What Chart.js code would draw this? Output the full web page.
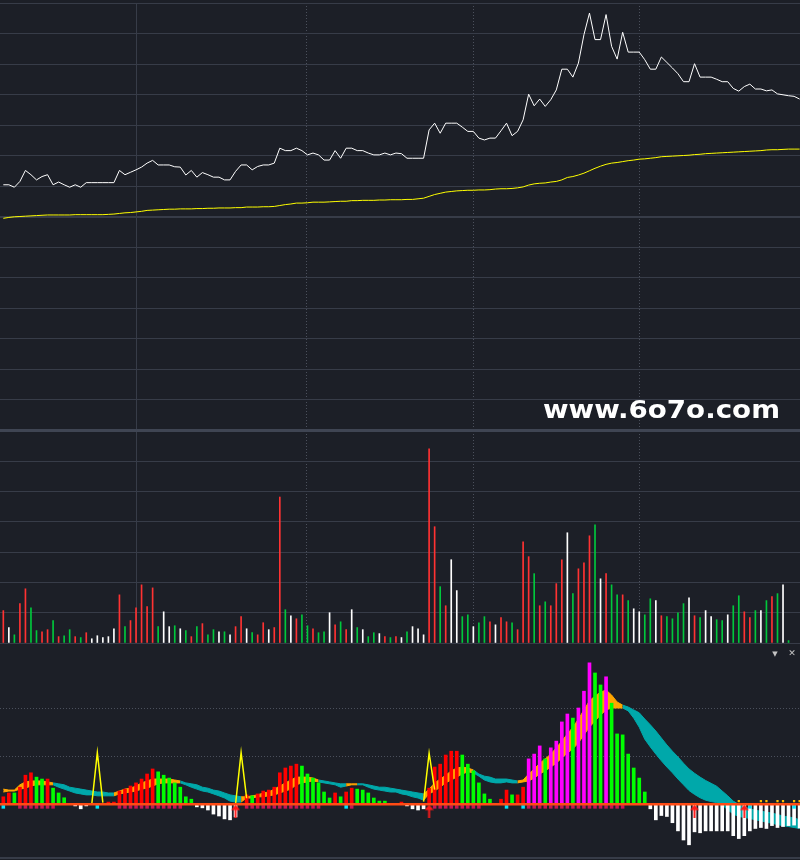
<!DOCTYPE html>
<html>
<head>
<meta charset="utf-8">
<script src="https://cdn.jsdelivr.net/npm/chart.js@4.4.1/dist/chart.umd.min.js"></script>
<style>
  html, body { margin: 0; padding: 0; background: #1c1f27; }
  #wrap { position: relative; width: 800px; height: 860px; overflow: hidden; background: #1c1f27; }
  canvas { position: absolute; left: 0; }
  #price { top: 0; }
  #vol { top: 428px; }
  #macd { top: 645px; }
</style>
</head>
<body>
<div id="wrap">
  <canvas id="price" width="800" height="433"></canvas>
  <canvas id="vol" width="800" height="218"></canvas>
  <canvas id="macd" width="800" height="215"></canvas>
</div>
<script>
// ---- data (one entry per trading day) ----
const price = [
  8.04, 8.04, 7.96, 8.15, 8.51, 8.37, 8.20, 8.31, 8.37, 8.04,
  8.13, 8.04, 7.96, 8.04, 7.96, 8.11, 8.11, 8.11, 8.11, 8.11,
  8.11, 8.51, 8.37, 8.45, 8.53, 8.62, 8.75, 8.84, 8.69, 8.69,
  8.69, 8.63, 8.62, 8.36, 8.51, 8.29, 8.44, 8.37, 8.29, 8.29,
  8.20, 8.20, 8.48, 8.69, 8.69, 8.53, 8.64, 8.69, 8.69, 8.75,
  9.24, 9.16, 9.16, 9.24, 9.16, 9.02, 9.08, 9.02, 8.85, 8.85,
  9.16, 8.91, 9.24, 9.24, 9.16, 9.16, 9.08, 9.02, 9.02, 9.08,
  9.02, 9.08, 9.06, 8.91, 8.91, 8.91, 8.91, 9.84, 10.06, 9.73,
  10.06, 10.06, 10.06, 9.93, 9.79, 9.79, 9.57, 9.51, 9.57, 9.57,
  9.81, 10.06, 9.65, 9.79, 10.17, 11.01, 10.63, 10.85, 10.61, 10.83,
  11.15, 11.83, 11.83, 11.57, 12.03, 12.96, 13.67, 12.80, 12.80, 13.62,
  12.58, 12.16, 13.04, 12.39, 12.39, 12.39, 12.14, 11.83, 11.83, 12.23,
  12.05, 11.87, 11.68, 11.42, 11.42, 12.01, 11.57, 11.57, 11.57, 11.50,
  11.42, 11.42, 11.20, 11.11, 11.26, 11.34, 11.18, 11.18, 11.12, 11.15,
  11.02, 10.99, 10.96, 10.94, 10.85
];
const avgLine = [
  6.94, 6.97, 6.99, 7.00, 7.01, 7.02, 7.03, 7.04, 7.05, 7.05,
  7.05, 7.05, 7.05, 7.06, 7.06, 7.06, 7.06, 7.06, 7.06, 7.07,
  7.08, 7.10, 7.12, 7.13, 7.15, 7.17, 7.20, 7.21, 7.22, 7.23,
  7.24, 7.24, 7.25, 7.25, 7.25, 7.26, 7.26, 7.27, 7.27, 7.28,
  7.28, 7.28, 7.29, 7.29, 7.31, 7.31, 7.31, 7.32, 7.32, 7.33,
  7.36, 7.39, 7.41, 7.44, 7.44, 7.45, 7.47, 7.47, 7.47, 7.48,
  7.49, 7.50, 7.50, 7.52, 7.52, 7.53, 7.53, 7.53, 7.54, 7.54,
  7.55, 7.55, 7.55, 7.56, 7.56, 7.58, 7.60, 7.66, 7.72, 7.76,
  7.80, 7.82, 7.84, 7.85, 7.86, 7.86, 7.87, 7.87, 7.88, 7.90,
  7.91, 7.91, 7.92, 7.94, 7.97, 8.03, 8.07, 8.09, 8.10, 8.13,
  8.15, 8.20, 8.28, 8.31, 8.36, 8.42, 8.50, 8.58, 8.65, 8.71,
  8.75, 8.77, 8.80, 8.83, 8.85, 8.88, 8.89, 8.91, 8.93, 8.96,
  8.97, 8.98, 8.99, 9.00, 9.01, 9.03, 9.04, 9.06, 9.07, 9.08,
  9.09, 9.10, 9.11, 9.12, 9.13, 9.14, 9.15, 9.16, 9.18, 9.19,
  9.19, 9.20, 9.21, 9.21, 9.21
];
const volume = [
  1.07, 0.51, 0.27, 1.30, 1.79, 1.16, 0.41, 0.37, 0.44, 0.74,
  0.21, 0.24, 0.44, 0.21, 0.18, 0.34, 0.14, 0.24, 0.18, 0.21,
  0.47, 1.59, 0.54, 0.74, 1.16, 1.92, 1.20, 1.82, 0.54, 1.03,
  0.54, 0.57, 0.47, 0.41, 0.21, 0.54, 0.64, 0.27, 0.44, 0.37,
  0.37, 0.27, 0.54, 0.87, 0.47, 0.34, 0.27, 0.67, 0.44, 0.51,
  4.82, 1.10, 0.90, 0.80, 0.93, 0.57, 0.47, 0.34, 0.37, 1.00,
  0.60, 0.70, 0.44, 1.10, 0.51, 0.44, 0.21, 0.34, 0.31, 0.21,
  0.18, 0.21, 0.18, 0.37, 0.54, 0.47, 0.27, 6.41, 3.84, 1.86,
  1.23, 2.75, 1.73, 0.87, 0.93, 0.54, 0.67, 0.87, 0.70, 0.60,
  0.84, 0.70, 0.67, 0.44, 3.34, 2.85, 2.29, 1.23, 1.36, 1.23,
  1.96, 2.75, 3.64, 1.63, 2.45, 2.65, 3.54, 3.90, 2.12, 2.29,
  1.92, 1.59, 1.59, 1.40, 1.13, 1.03, 0.93, 1.46, 1.40, 0.90,
  0.87, 0.80, 1.00, 1.30, 1.49, 0.90, 0.84, 1.07, 0.87, 0.77,
  0.74, 0.93, 1.23, 1.56, 1.03, 0.84, 1.07, 1.07, 1.40, 1.53,
  1.63, 1.92, 0.08
];
// 1 = up day, -1 = down day, 0 = flat
const volDir = [
  1, 0, -1, 1, 1, -1, -1, 1, 1, -1,
  1, -1, -1, 1, -1, 1, 0, 0, 0, 0,
  0, 1, -1, 1, 1, 1, 1, 1, -1, 0,
  0, -1, 0, -1, 1, -1, 1, -1, -1, 0,
  -1, 0, 1, 1, 0, -1, 1, 1, 0, 1,
  1, -1, 0, 1, -1, -1, 1, -1, -1, 0,
  1, -1, 1, 0, -1, 0, -1, -1, 0, 1,
  -1, 1, 0, -1, 0, 0, 0, 1, 1, -1,
  1, 0, 0, -1, -1, 0, -1, -1, 1, 0,
  1, 1, -1, 1, 1, 1, -1, 1, -1, 1,
  1, 1, 0, -1, 1, 1, 1, -1, 0, 1,
  -1, -1, 1, -1, 0, 0, -1, -1, 0, 1,
  -1, -1, -1, -1, 0, 1, -1, 0, 0, -1,
  -1, 0, -1, -1, 1, 1, -1, 0, -1, 1,
  -1, 0, -1
];
const hist = [
  0.15, 0.23, 0.23, 0.35, 0.60, 0.65, 0.56, 0.52, 0.52, 0.33,
  0.23, 0.13, 0, -0.04, -0.10, -0.04, 0, 0, 0, 0.04,
  0.04, 0.27, 0.31, 0.375, 0.44, 0.52, 0.625, 0.73, 0.67, 0.60,
  0.54, 0.44, 0.35, 0.15, 0.10, -0.06, -0.08, -0.125, -0.21, -0.25,
  -0.31, -0.33, -0.27, 0, 0.19, 0.17, 0.21, 0.27, 0.29, 0.35,
  0.65, 0.75, 0.79, 0.83, 0.79, 0.625, 0.54, 0.44, 0.25, 0.125,
  0.23, 0.15, 0.25, 0.33, 0.31, 0.29, 0.23, 0.125, 0.06, 0.06,
  0, 0, 0.04, -0.04, -0.10, -0.125, -0.10, 0.33, 0.77, 0.83,
  1.02, 1.10, 1.10, 1.02, 0.83, 0.69, 0.44, 0.21, 0.10, 0,
  0.10, 0.29, 0.19, 0.19, 0.35, 0.94, 1.04, 1.21, 0.94, 1.17,
  1.31, 1.71, 1.875, 1.79, 2.0, 2.35, 2.94, 2.73, 2.48, 2.65,
  2.10, 1.46, 1.44, 1.04, 0.75, 0.54, 0.25, -0.10, -0.33, -0.24,
  -0.26, -0.39, -0.56, -0.75, -0.85, -0.58, -0.60, -0.56, -0.56, -0.56,
  -0.56, -0.56, -0.66, -0.72, -0.66, -0.56, -0.51, -0.49, -0.51, -0.45,
  -0.49, -0.47, -0.45, -0.44, -0.50
];
// R = rising, G = falling, M = strong, W = below zero
const histKind = [
  'R','R','G','R','R','R','G','G','R','G',
  'G','G','W','W','W','W','W','W','W','R',
  'R','R','R','R','R','R','R','R','G','G',
  'G','G','G','G','G','W','W','W','W','W',
  'W','W','W','W','R','G','R','R','R','R',
  'R','R','R','R','G','G','G','G','G','G',
  'R','G','R','R','G','G','G','G','G','G',
  'W','W','R','W','W','W','W','R','R','R',
  'R','R','R','G','G','G','G','G','G','W',
  'R','R','G','R','R','M','M','M','G','M',
  'M','M','M','G','M','M','M','G','G','M',
  'G','G','G','G','G','G','G','W','W','W',
  'W','W','W','W','W','W','W','W','W','W',
  'W','W','W','W','W','W','W','W','W','W',
  'W','W','W','W','W'
];
const bandHi = [
  0.31, 0.29, 0.29, 0.40, 0.46, 0.48, 0.48, 0.48, 0.46, 0.44,
  0.42, 0.40, 0.35, 0.33, 0.31, 0.29, 0.27, 0.25, 0.25, 0.23,
  0.23, 0.27, 0.31, 0.33, 0.375, 0.44, 0.48, 0.52, 0.52, 0.52,
  0.52, 0.50, 0.48, 0.44, 0.42, 0.40, 0.35, 0.33, 0.29, 0.27,
  0.23, 0.19, 0.17, 0.15, 0.15, 0.17, 0.19, 0.23, 0.25, 0.31,
  0.375, 0.44, 0.50, 0.56, 0.56, 0.56, 0.54, 0.50, 0.48, 0.46,
  0.44, 0.42, 0.42, 0.42, 0.42, 0.42, 0.40, 0.375, 0.35, 0.35,
  0.33, 0.31, 0.29, 0.27, 0.25, 0.23, 0.21, 0.31, 0.44, 0.52,
  0.60, 0.69, 0.75, 0.77, 0.75, 0.71, 0.625, 0.58, 0.56, 0.52,
  0.52, 0.52, 0.50, 0.48, 0.50, 0.625, 0.73, 0.85, 0.94, 1.04,
  1.17, 1.31, 1.46, 1.60, 1.77, 1.96, 2.15, 2.25, 2.33, 2.375,
  2.27, 2.125, 2.06, 2.02, 1.96, 1.90, 1.77, 1.65, 1.52, 1.375,
  1.23, 1.10, 0.98, 0.85, 0.73, 0.64, 0.56, 0.49, 0.43, 0.37,
  0.27, 0.17, 0.06, -0.01, -0.06, -0.10, -0.13, -0.15, -0.17, -0.19,
  -0.22, -0.25, -0.27, -0.29, -0.33
];
const bandLo = [
  0.25, 0.27, 0.27, 0.31, 0.33, 0.375, 0.40, 0.40, 0.40, 0.40,
  0.35, 0.31, 0.27, 0.23, 0.21, 0.19, 0.19, 0.17, 0.17, 0.17,
  0.17, 0.21, 0.23, 0.25, 0.27, 0.31, 0.33, 0.375, 0.42, 0.44,
  0.44, 0.44, 0.44, 0.40, 0.35, 0.31, 0.27, 0.25, 0.21, 0.17,
  0.125, 0.06, 0.04, 0.04, 0.125, 0.125, 0.15, 0.15, 0.17, 0.19,
  0.23, 0.27, 0.31, 0.40, 0.44, 0.46, 0.48, 0.46, 0.44, 0.42,
  0.40, 0.35, 0.375, 0.40, 0.40, 0.40, 0.35, 0.31, 0.29, 0.27,
  0.25, 0.25, 0.21, 0.19, 0.15, 0.125, 0.08, 0.21, 0.27, 0.35,
  0.44, 0.50, 0.56, 0.625, 0.67, 0.65, 0.58, 0.50, 0.46, 0.44,
  0.44, 0.46, 0.44, 0.44, 0.46, 0.48, 0.54, 0.625, 0.69, 0.77,
  0.85, 0.96, 1.06, 1.15, 1.27, 1.44, 1.60, 1.73, 1.85, 1.96,
  2.0, 2.0, 2.0, 1.94, 1.79, 1.60, 1.35, 1.19, 1.04, 0.90,
  0.77, 0.65, 0.52, 0.40, 0.28, 0.20, 0.13, 0.08, 0.05, 0.03,
  -0.02, -0.12, -0.21, -0.26, -0.28, -0.30, -0.33, -0.35, -0.38, -0.40,
  -0.43, -0.45, -0.47, -0.49, -0.51
];
// 1 = ribbon rising (orange), 0 = falling (teal)
const bandUp = [
  0, 1, 1, 1, 1, 1, 1, 1, 1, 1,
  0, 0, 0, 0, 0, 0, 0, 0, 0, 0,
  0, 1, 1, 1, 1, 1, 1, 1, 1, 1,
  1, 1, 1, 0, 0, 0, 0, 0, 0, 0,
  0, 0, 0, 0, 1, 1, 1, 1, 1, 1,
  1, 1, 1, 1, 1, 1, 1, 1, 0, 0,
  0, 0, 0, 1, 1, 0, 0, 0, 0, 0,
  0, 0, 0, 0, 0, 0, 0, 1, 1, 1,
  1, 1, 1, 1, 1, 1, 0, 0, 0, 0,
  0, 0, 0, 0, 1, 1, 1, 1, 1, 1,
  1, 1, 1, 1, 1, 1, 1, 1, 1, 1,
  1, 1, 1, 0, 0, 0, 0, 0, 0, 0,
  0, 0, 0, 0, 0, 0, 0, 0, 0, 0,
  0, 0, 0, 0, 0, 0, 0, 0, 0, 0,
  0, 0, 0, 0, 0
];
// 1 = hold signal, 2 = watch signal, 0 = none
const signal = [
  2, 0, 0, 1, 1, 1, 1, 1, 1, 1,
  0, 0, 0, 0, 0, 0, 0, 2, 0, 0,
  0, 1, 1, 1, 1, 1, 1, 1, 1, 1,
  1, 1, 1, 0, 0, 0, 0, 0, 0, 0,
  0, 0, 0, 0, 1, 1, 1, 1, 1, 1,
  1, 1, 1, 1, 1, 1, 1, 1, 0, 0,
  0, 0, 2, 1, 0, 0, 0, 0, 0, 0,
  0, 0, 0, 0, 0, 0, 0, 0, 1, 1,
  1, 1, 1, 1, 1, 1, 1, 0, 0, 0,
  0, 2, 0, 0, 2, 1, 1, 1, 1, 1,
  1, 1, 1, 1, 1, 1, 1, 1, 1, 1,
  1, 1, 1, 0, 0, 0, 0, 0, 0, 0,
  0, 0, 0, 0, 0, 0, 0, 0, 0, 0,
  0, 0, 0, 0, 0, 2, 0, 0, 0, 0,
  0, 0, 0, 2, 0
];
const spikeX = [16, 17, 18, 42, 43, 44, 76, 77, 78];
const spikeY = [0, 1.07, 0.03, 0, 1.07, 0.12, 0.05, 1.06, 0.30];
const buyArrowAt = [42, 77, 125, 134];
const tickMarkAt = [133, 137, 138, 140, 141, 143, 144];
const monthLines = [24.1, 54.9, 85, 115];
const macdGrid = [1, 2];
const siteText = 'www.6o7o.com';

// ---- look ----
const GRID = '#373c48';
const EDGE = '#3f4553';
const DOTS = '#4b505c';
const TEAL = '#00a8aa';
const ORANGE = '#ffa500';
const X_MIN = -0.6, X_MAX = 144.07;

const dirColor = d => d > 0 ? '#ff3232' : (d < 0 ? '#00c83c' : '#ffffff');
const kindColor = { R: '#ff0000', G: '#00ff00', M: '#ff00ff', W: '#ffffff' };

const common = {
  responsive: false,
  animation: false,
  events: [],
  plugins: { legend: { display: false }, tooltip: { enabled: false }, colors: { enabled: false } }
};

function monthAxis() {
  return {
    type: 'linear', min: X_MIN, max: X_MAX, offset: false,
    afterBuildTicks: s => { s.ticks = monthLines.map(v => ({ value: v })); },
    ticks: { display: false },
    grid: { offset: false, drawTicks: false, color: c => c.index === 0 ? GRID : DOTS },
    border: { display: false, dash: c => c.index === 0 ? [] : [1, 2] }
  };
}

const watermark = {
  id: 'watermark',
  afterDraw(chart) {
    const ctx = chart.ctx;
    ctx.save();
    ctx.font = 'bold 24px "DejaVu Sans", sans-serif';
    const w = ctx.measureText(siteText).width;
    ctx.translate(543, 418);
    ctx.scale(237 / w, 1);
    ctx.fillStyle = '#ffffff';
    ctx.textBaseline = 'alphabetic';
    ctx.fillText(siteText, 0, 0);
    ctx.restore();
  }
};

new Chart(document.getElementById('price'), {
  type: 'line',
  data: {
    datasets: [
      { data: price.map((v, i) => ({ x: i, y: v })), borderColor: '#ffffff', borderWidth: 1, pointRadius: 0, tension: 0 },
      { data: avgLine.map((v, i) => ({ x: i, y: v })), borderColor: '#ffff00', borderWidth: 1, pointRadius: 0, tension: 0 }
    ]
  },
  options: {
    ...common,
    layout: { autoPadding: false, padding: { top: 3, bottom: 3, left: 0, right: 0 } },
    scales: {
      x: monthAxis(),
      y: {
        min: 0, max: 14,
        ticks: { display: false, stepSize: 1 },
        grid: {
          drawTicks: false,
          color: c => c.tick.value === 0 ? EDGE : GRID,
          lineWidth: c => (c.tick.value === 0 || c.tick.value === 7) ? 2 : 1
        },
        border: { display: false }
      }
    }
  },
  plugins: [watermark]
});

new Chart(document.getElementById('vol'), {
  type: 'bar',
  data: {
    datasets: [{
      data: volume.map((v, i) => ({ x: i, y: v })),
      backgroundColor: volDir.map(dirColor),
      barThickness: 1,
      borderWidth: 0
    }]
  },
  options: {
    ...common,
    layout: { autoPadding: false, padding: { top: 3, bottom: 3, left: 0, right: 0 } },
    scales: {
      x: monthAxis(),
      y: {
        min: 0, max: 7,
        ticks: { display: false, stepSize: 1 },
        grid: {
          drawTicks: false,
          color: c => c.tick.value === 7 ? EDGE : GRID,
          lineWidth: c => c.tick.value === 7 ? 2 : 1
        },
        border: { display: false }
      }
    }
  }
});

// arrow marker drawn once, used as point style
function makeArrow(color) {
  const c = document.createElement('canvas');
  c.width = 9; c.height = 13;
  const g = c.getContext('2d');
  g.fillStyle = color;
  g.beginPath(); g.moveTo(4.5, 0); g.lineTo(9, 5.5); g.lineTo(0, 5.5); g.closePath(); g.fill();
  g.fillRect(3.5, 5, 2, 8);
  return c;
}

const spikePts = [];
spikeX.forEach((x, k) => {
  if (k > 0 && x - spikeX[k - 1] > 1) spikePts.push({ x: x - 0.5, y: null });
  spikePts.push({ x: x, y: spikeY[k] });
});

const sigPts = [];
signal.forEach((s, i) => { if (s) sigPts.push({ x: i, y: -0.06, s: s }); });

const bandColor = c => bandUp[c.p1DataIndex] ? ORANGE : TEAL;

const icons = {
  id: 'icons',
  afterDraw(chart) {
    const ctx = chart.ctx;
    ctx.save();
    ctx.fillStyle = '#c4c4c4';
    ctx.textAlign = 'center';
    ctx.textBaseline = 'middle';
    ctx.font = '7px "DejaVu Sans", sans-serif';
    ctx.fillText('\u25BC', 775, 9);
    ctx.font = '9px "DejaVu Sans", sans-serif';
    ctx.fillText('\u2715', 792, 9);
    ctx.restore();
  }
};

new Chart(document.getElementById('macd'), {
  type: 'bar',
  data: {
    datasets: [
      { type: 'line', data: bandHi.map((v, i) => ({ x: i, y: v })), borderColor: TEAL, borderWidth: 1,
        pointRadius: 0, fill: false, segment: { borderColor: bandColor }, order: 10 },
      { type: 'line', data: bandLo.map((v, i) => ({ x: i, y: v })), borderColor: TEAL, backgroundColor: TEAL,
        borderWidth: 1, pointRadius: 0, fill: '-1',
        segment: { borderColor: bandColor, backgroundColor: bandColor }, order: 10 },
      { type: 'bar', data: hist.map((v, i) => ({ x: i, y: v })),
        backgroundColor: hist.map((v, i) => v < 0 ? '#ffffff' : kindColor[histKind[i]]),
        barThickness: 3, borderWidth: 0, order: 5 },
      { type: 'line', data: spikePts, borderColor: '#ffff00', borderWidth: 1.5, pointRadius: 0,
        spanGaps: false, order: 4 },
      { type: 'line', data: sigPts, showLine: false, pointStyle: 'rect', pointRadius: 2.5, pointBorderWidth: 0,
        pointBackgroundColor: sigPts.map(p => p.s === 1 ? '#c81455' : '#00e6ff'), order: 2 },
      { type: 'line', data: tickMarkAt.map(i => ({ x: i, y: 0.06 })), showLine: false, pointStyle: 'rect',
        pointRadius: 1.6, pointBorderWidth: 0, pointBackgroundColor: '#ffc000', order: 2 },
      { type: 'line', data: buyArrowAt.map(i => ({ x: i, y: -0.146 })), showLine: false,
        pointStyle: makeArrow('#ff1a1a'), pointRadius: 5, order: 1 }
    ]
  },
  options: {
    ...common,
    layout: { autoPadding: false, padding: { top: 0, bottom: 2, left: 0, right: 0 } },
    scales: {
      x: {
        type: 'linear', min: X_MIN, max: X_MAX, offset: false,
        ticks: { display: false },
        grid: { display: false, offset: false, drawTicks: false },
        border: { display: true, color: GRID, width: 2 }
      },
      y: {
        min: -1.125, max: 3.3125,
        afterBuildTicks: s => { s.ticks = macdGrid.map(v => ({ value: v })); },
        ticks: { display: false },
        grid: { drawTicks: false, color: DOTS },
        border: { display: false, dash: [1, 2] }
      },
      zero: {
        position: 'left', min: -1.125, max: 3.3125,
        afterBuildTicks: s => { s.ticks = [{ value: 0 }]; },
        ticks: { display: false },
        grid: { drawTicks: false, color: '#ff4b14', lineWidth: 2.5, z: 1 },
        border: { display: false }
      }
    }
  },
  plugins: [icons]
});
</script>
</body>
</html>
